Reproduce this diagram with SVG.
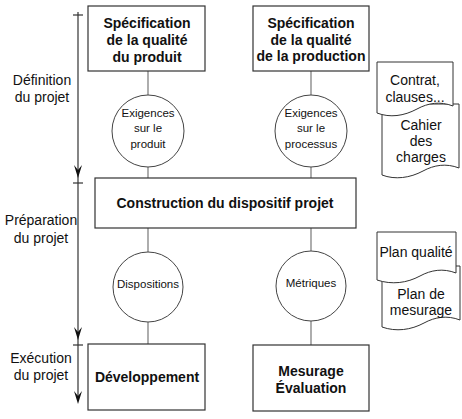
<svg xmlns="http://www.w3.org/2000/svg" xmlns:xlink="http://www.w3.org/1999/xlink" width="462" height="419" viewBox="0 0 462 419">
<style>
.box{fill:#fff;stroke:#333;stroke-width:1.2}
.circ{fill:#fff;stroke:#444;stroke-width:1}
.doc{fill:#fff;stroke:#333;stroke-width:1}
.conn{stroke:#777;stroke-width:1.2;fill:none}
.tl{stroke:#333;stroke-width:1.2;fill:none}
.bt{font-family:"Liberation Sans",Arial,sans-serif;font-weight:bold;font-size:14px;fill:#111;text-anchor:middle}
.ct{font-family:"Liberation Sans",Arial,sans-serif;font-size:11.5px;fill:#111;text-anchor:middle}
.lt{font-family:"Liberation Sans",Arial,sans-serif;font-size:14px;fill:#111;text-anchor:middle}
</style>
<defs>
<path id="ah" d="M-4,-13 L0,0 L4,-13 L0,-8 Z" fill="#111"/>
</defs>
<rect width="462" height="419" fill="#fff"/>
<g id="timeline">
<line class="tl" x1="78" y1="12" x2="78" y2="400"/>
<line class="tl" x1="73" y1="15" x2="83" y2="15"/>
<line class="tl" x1="73" y1="183" x2="83" y2="183"/>
<line class="tl" x1="73" y1="345" x2="83" y2="345"/>
<use xlink:href="#ah" x="78" y="178"/>
<use xlink:href="#ah" x="78" y="340"/>
<use xlink:href="#ah" x="78" y="404"/>
<text class="lt" x="42" y="85">Définition</text>
<text class="lt" x="42" y="102">du projet</text>
<text class="lt" x="41" y="225">Préparation</text>
<text class="lt" x="41" y="243">du projet</text>
<text class="lt" x="41" y="363">Exécution</text>
<text class="lt" x="41" y="380">du projet</text>
</g>
<g id="connectors">
<line class="conn" x1="148" y1="71" x2="148" y2="95"/>
<line class="conn" x1="148" y1="167" x2="148" y2="178"/>
<line class="conn" x1="148" y1="228" x2="148" y2="252"/>
<line class="conn" x1="148" y1="322" x2="148" y2="344"/>
<line class="conn" x1="311" y1="71" x2="311" y2="95"/>
<line class="conn" x1="311" y1="167" x2="311" y2="178"/>
<line class="conn" x1="311" y1="228" x2="311" y2="251"/>
<line class="conn" x1="311" y1="321" x2="311" y2="345"/>
</g>
<g id="spec-produit">
<rect class="box" x="88" y="6" width="117" height="65"/>
<text class="bt" x="147" y="28">Spécification</text>
<text class="bt" x="147" y="45">de la qualité</text>
<text class="bt" x="147" y="62">du produit</text>
</g>
<g id="spec-production">
<rect class="box" x="253" y="6" width="116" height="65"/>
<text class="bt" x="311" y="28">Spécification</text>
<text class="bt" x="311" y="45">de la qualité</text>
<text class="bt" x="311" y="61">de la production</text>
</g>
<g id="exig-produit">
<circle class="circ" cx="148" cy="131" r="36"/>
<text class="ct" x="148" y="117">Exigences</text>
<text class="ct" x="148" y="132">sur le</text>
<text class="ct" x="148" y="148">produit</text>
</g>
<g id="exig-processus">
<circle class="circ" cx="311" cy="131" r="36"/>
<text class="ct" x="311" y="117">Exigences</text>
<text class="ct" x="311" y="132">sur le</text>
<text class="ct" x="311" y="148">processus</text>
</g>
<g id="construction">
<rect class="box" x="95" y="178" width="261" height="50"/>
<text class="bt" x="225" y="208">Construction du dispositif projet</text>
</g>
<g id="dispositions">
<circle class="circ" cx="148" cy="287" r="35"/>
<text class="ct" x="148" y="288">Dispositions</text>
</g>
<g id="metriques">
<circle class="circ" cx="311" cy="286" r="35"/>
<text class="ct" x="311" y="287">Métriques</text>
</g>
<g id="developpement">
<rect class="box" x="88" y="344" width="117" height="66"/>
<text class="bt" x="147" y="382">Développement</text>
</g>
<g id="mesurage">
<rect class="box" x="253" y="345" width="116" height="66"/>
<text class="bt" x="311" y="376">Mesurage</text>
<text class="bt" x="311" y="393">Évaluation</text>
</g>
<g id="cahier">
<path class="doc" d="M382,104 H459 V168 C446,163 434,165 423,171 C410,178 395,180 382,175 Z"/>
<text class="lt" x="421" y="130">Cahier</text>
<text class="lt" x="421" y="146">des</text>
<text class="lt" x="421" y="162">charges</text>
</g>
<g id="contrat">
<path class="doc" d="M377,62 H453 V106 C440,101 428,103 417,109 C404,116 390,118 377,113 Z"/>
<text class="lt" x="415" y="85">Contrat,</text>
<text class="lt" x="415" y="102">clauses...</text>
</g>
<g id="plan-mesurage">
<path class="doc" d="M382,266 H460 V320 C447,315 435,317 424,323 C411,330 396,332 382,327 Z"/>
<text class="lt" x="421" y="299">Plan de</text>
<text class="lt" x="421" y="315">mesurage</text>
</g>
<g id="plan-qualite">
<path class="doc" d="M377,232 H456 V273 C443,268 431,270 420,276 C407,283 392,285 377,280 Z"/>
<text class="lt" x="416" y="257">Plan qualité</text>
</g>
</svg>
